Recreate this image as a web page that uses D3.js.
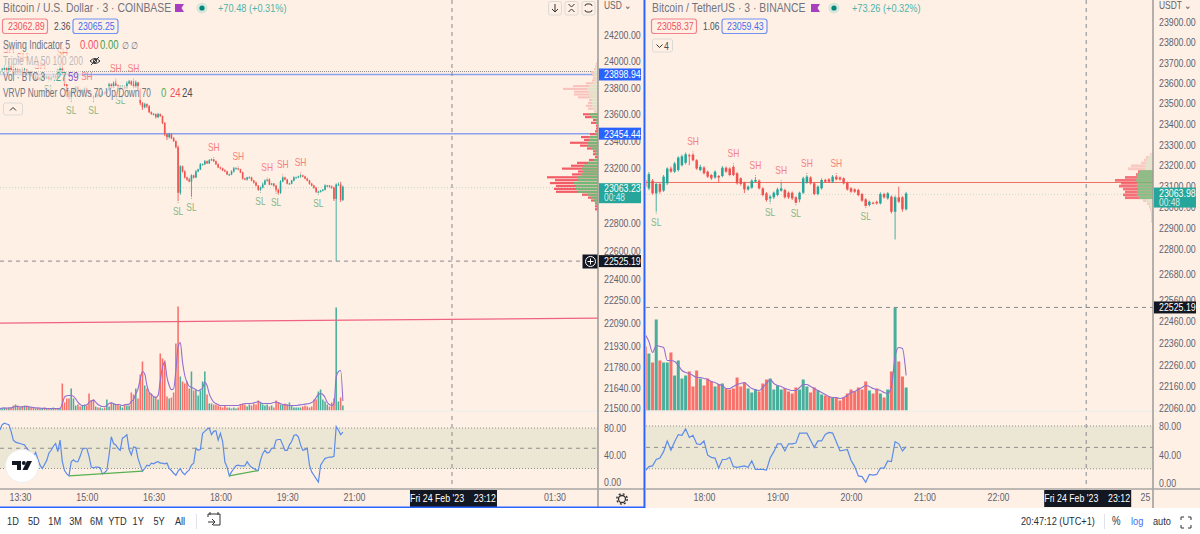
<!DOCTYPE html>
<html lang='en'>
<head>
<title>BTC 3m split chart</title>
<meta charset='UTF-8'>
<script src='https://d3js.org/d3.v7.min.js'></script>
<style>
  html, body { margin: 0; padding: 0; background: #fff; overflow: hidden; }
  svg { display: block; }
  text { font-family: 'Liberation Sans', sans-serif; white-space: pre; }
</style>
</head>
<body>
<svg id='chart' width='1200' height='534'></svg>
<script>
// ---- coinbase chart (left) ----
const leftClose = [23920,23935,23950,23920,23965,23935,23905,23935,23913,23928,
  23913,23935,23905,23920,23890,23868,23883,23860,23875,23890,
  23868,23883,23860,23875,23890,23875,23920,23943,23905,23823,
  23771,23727,23771,23779,23801,23786,23764,23779,23794,23771,
  23756,23734,23727,23749,23734,23742,23764,23756,23779,23823,
  23801,23831,23816,23801,23809,23809,23794,23831,23846,23823,
  23801,23838,23786,23682,23652,23675,23660,23615,23600,23600,
  23578,23600,23585,23533,23451,23429,23451,23421,23399,23354,
  23019,23213,23175,23131,23116,23101,23146,23131,23175,23190,
  23228,23228,23250,23235,23257,23265,23250,23228,23205,23198,
  23183,23175,23153,23153,23175,23198,23198,23190,23168,23123,
  23116,23131,23131,23108,23094,23071,23041,23056,23079,23108,
  23116,23079,23086,23071,23041,23019,23101,23131,23116,23086,
  23086,23108,23131,23131,23138,23146,23138,23123,23108,23086,
  23071,23056,23026,23026,23034,23041,23071,23071,23064,23056,
  22974,23079,23079,22967,23063]
const leftFirstOpen = 23905
const leftWickUp = [8,15,22,8,37,10,5,15,8,12,
  8,15,5,10,8,12,10,15,0,8,
  12,5,8,10,15,8,20,22,37,5,
  5,8,10,15,8,8,5,10,8,0,
  8,5,5,10,8,5,10,8,15,12,
  8,15,22,5,8,8,5,15,12,8,
  30,15,5,8,8,10,5,8,5,8,
  5,10,5,5,8,5,10,5,8,5,
  12,8,5,8,5,12,8,5,10,5,
  8,5,10,5,8,5,0,5,5,5,
  5,8,5,5,8,10,8,0,5,5,
  5,5,8,5,5,5,5,8,15,8,
  0,8,5,5,5,8,10,8,5,5,
  5,5,8,5,5,8,5,5,5,5,
  5,5,5,8,5,5,10,5,5,8,
  8,8,15,20,8]
const leftWickDown = [8,8,5,10,5,8,8,5,8,8,
  5,8,5,8,10,5,8,5,8,5,
  8,5,0,8,5,10,5,8,8,15,
  8,15,22,8,5,8,5,8,5,8,
  5,8,22,5,8,8,5,8,5,5,
  8,5,5,8,22,5,8,5,5,8,
  8,5,8,15,20,8,15,8,5,8,
  10,8,5,8,15,22,10,8,5,8,
  60,15,8,8,10,5,112,8,5,5,
  5,8,5,5,5,5,5,5,5,8,
  5,5,5,8,5,8,5,5,5,8,
  5,8,5,5,8,5,8,8,5,5,
  8,5,5,8,15,15,8,5,5,5,
  5,5,5,5,5,8,5,5,5,8,
  5,8,8,8,5,5,5,8,8,8,
  15,449,8,15,8]
const leftVolume = [12,12,18,12,18,18,30,36,30,18,24,30,30,24,18,18,12,18,12,12,18,12,12,12,18,12,12,12,
  162,48,72,72,132,72,30,36,24,30,36,30,102,60,66,24,18,18,12,18,66,24,48,42,36,36,30,18,36,30,30,
  108,96,132,72,216,294,150,132,108,102,84,84,66,342,312,300,84,72,78,108,402,624,204,174,162,174,132,
  234,120,126,90,120,174,234,96,42,42,36,36,30,24,18,30,18,18,12,18,12,18,36,42,36,24,36,30,42,36,
  60,48,36,30,36,24,30,18,60,48,36,36,42,36,48,30,18,18,18,18,24,30,24,18,24,66,66,114,126,66,54,36,24,48,72,618,54,78,30]
const leftVolumeMa = [12,14,15,14,15,16,20,24,24,22,22,24,24,22,20,18,16,15,14,13,13,12,12,12,12,12,12,13,
  40,80,88,90,90,85,70,50,36,30,30,34,48,58,62,50,36,30,24,24,30,42,46,42,36,36,34,30,34,36,38,54,66,
  100,130,190,234,220,150,110,96,84,78,90,180,260,290,200,150,125,130,240,380,408,290,210,170,145,140,
  132,125,118,125,135,170,150,100,70,50,42,36,30,30,30,30,30,30,30,30,30,34,38,42,42,42,42,46,50,54,
  48,42,42,42,42,44,48,50,48,40,36,34,32,30,30,30,30,32,34,36,38,40,42,48,58,78,96,102,96,78,48,36,30,40,200,234,240,57]
const leftMfi = [77,85,87,86,85,75,62,59,58,57,56,55,50,46,40,37,44,34,25,20,26,32,43,47,53,57,45,62,30,17,12,9,30,33,30,30,38,48,50,50,
  38,22,21,22,22,21,12,14,17,40,67,57,55,50,47,65,67,70,48,40,52,51,35,25,16,20,25,24,28,27,29,30,28,28,27,28,20,17,13,10,
  16,20,14,11,15,18,25,28,50,47,48,72,75,78,80,70,75,76,62,72,60,30,22,9,15,20,24,25,24,24,24,30,25,22,20,18,17,32,42,47,
  43,44,50,50,62,63,63,55,47,47,55,60,69,70,67,55,47,48,50,25,15,10,5,0,25,30,35,36,37,37,38,82,77,70,74]
const leftSwingHigh = [4,10,18,28,39,52,60,96,107,120,127,135]
const leftSwingLow = [22,32,42,54,80,86,117,124,143]
// volume profile rows, top to bottom (up volume, total volume)
const leftProfileUp = [0,1,2,3,4,4,3,3,5,9,11,9,9,8,6,6,6,5,2,8,7,2,2,1,1,1,3,9,9,11,10,7,3,2,1,4,10,14,16,15,17,21,20,24,22,22,20,11,7,4,2,1,1,0,0,0,0,0,0,0,0,0,0,0,0,0,0,0,0,0]
const leftProfileTotal = [1,2,3,4,7,6,5,6,12,25,35,24,24,20,9,10,12,10,4,15,13,5,7,2,2,3,8,17,14,28,18,11,5,5,3,9,21,27,36,20,26,51,43,48,42,44,42,16,10,7,3,3,3,1,1,1,1,1,1,1,1,1,1,1,1,1,1,1,1,1]

// ---- binance chart (right) ----
const rightOpen = [23129,23089,23126,23065,23110,23078,23113,23184,23169,23177,23200,23212,23248,23251,23224,23177,23189,23169,23153,23141,
  23148,23148,23188,23184,23192,23161,23137,23116,23084,23092,23121,23126,23089,23065,23041,23046,23057,23078,23081,23068,
  23068,23046,23036,23068,23116,23141,23113,23062,23089,23129,23132,23121,23145,23141,23137,23116,23089,23084,23081,23062,
  23036,23009,23020,23024,23017,23062,23041,23049,22977,23046,23046,22989]
const rightClose = [23097,23157,23065,23110,23073,23145,23184,23169,23208,23237,23243,23253,23245,23224,23184,23192,23161,23145,23137,23169,
  23141,23188,23169,23153,23153,23113,23110,23084,23097,23126,23129,23089,23057,23033,23049,23068,23084,23089,23046,23046,
  23041,23020,23068,23137,23145,23113,23062,23097,23129,23121,23121,23145,23132,23132,23113,23084,23073,23073,23057,23030,
  23004,23025,23017,23017,23062,23046,23065,22977,23046,23025,22989,23064]
const rightWickUp = [8,10,8,6,5,8,6,10,8,6,8,8,8,6,5,10,6,5,5,6,
  5,8,6,6,8,6,5,5,6,6,14,6,5,6,8,6,8,30,6,6,
  6,5,5,8,8,6,5,6,8,6,6,8,8,5,5,5,6,5,6,5,
  6,5,5,6,8,6,6,6,8,51,6,8]
const rightWickDown = [6,8,6,88,10,6,8,5,6,8,6,8,45,5,6,6,5,6,8,6,
  25,6,5,6,5,6,8,18,6,5,6,5,6,8,18,8,6,5,6,8,
  8,3,14,6,5,6,6,6,6,5,5,6,5,6,5,6,5,6,6,6,
  0,6,5,6,5,6,6,8,132,6,12,6]
const rightVolume = [64,57,48,91,50,48,48,58,35,50,32,35,39,24,40,32,25,32,29,24,26,27,22,21,22,33,24,28,22,18,21,19,27,31,32,21,25,21,22,19,
  17,23,21,31,24,18,23,20,16,15,14,13,13,10,13,17,21,19,23,21,29,20,17,22,17,13,21,39,103,49,34,23]
const rightVolumeMa = [76,69,58,65,64,63,50,50,49,45,40,38,37,35,33,33,32,31,29,28,26,25,22,22,24,26,27,28,25,22,21,20,23,27,31,27,25,24,22,21,
  20,20,23,26,26,24,22,20,18,16,14,13,13,12,13,15,18,19,21,23,25,24,22,21,20,18,17,24,54,63,62,35]
const rightMfi = [17,23,24,33,35,44,59,46,58,68,67,76,64,67,55,54,59,39,36,35,21,33,33,36,23,22,23,24,22,31,19,19,19,18,35,44,55,55,45,55,
  55,56,70,70,70,60,50,59,59,68,71,70,58,45,46,47,32,23,10,9,1,12,11,12,21,21,31,30,58,55,45,51]
const rightSwingHigh = [13,24,30,37,44,52]
const rightSwingLow = [3,34,41,60]
const rightProfileUp = [2,5,6,7,8,8,14,16,16,17,16,16,15,16,16,14,7,4,3,2,1,1,1,1,0,0,0,0,0,0]
const rightProfileTotal = [3,7,9,12,22,25,15,17,28,38,32,34,30,28,30,28,10,6,4,3,2,2,2,2,1,1,1,1,1,1]

// ---- axis ticks ----
const leftPriceTicks = [24200,24000,23800,23600,23400,23200,23000,22800,22600,22400,22250,22090,21930,21780,21640,21500]
const rightPriceTicks = [23900,23800,23700,23600,23500,23400,23300,23200,23100,23000,22900,22800,22680,22560,22460,22360,22260,22160,22060]
const mfiTicks = [0,40,80]
const leftTimeTicks = ['13:30','15:00','16:30','18:00','19:30','21:00','22:30','24:00','25:30']
const rightTimeTicks = ['18:00','19:00','20:00','21:00','22:00','23:00','24:00']
const rangeButtons = ['1D','5D','1M','3M','6M','YTD','1Y','5Y','All']

const BG = '#fff0e6', RED = '#ef5350', TEAL = '#26a69a', AXIS_TXT = '#5f626c', LEGEND_TXT = '#71747f'
const FONT = "'Liberation Sans', sans-serif"
const STEP = 3 * 60000
const TEXT_SQUEEZE = 0.8   // reference type is narrower than anything installed

const svg = d3.select('#chart')

// 'HH:MM' to a date, hours above 24 fall on the next day
const toTime = s => { const [h, m] = s.split(':').map(Number); return new Date(Date.UTC(2023, 1, 24, h, m)) }
const fmtTime = d => d.getUTCHours() === 0 && d.getUTCMinutes() === 0 ? '25' : d3.utcFormat('%H:%M')(d)

function drawPane(c) {
  const defs = svg.append('defs')
  defs.append('clipPath').attr('id', c.id + 'clip').append('rect')
    .attr('x', c.left).attr('y', 0).attr('width', c.right - c.left).attr('height', 489)

  svg.append('rect').attr('x', c.left).attr('y', 0).attr('width', c.width).attr('height', 508).attr('fill', BG)

  const g = svg.append('g').attr('clip-path', `url(#${c.id}clip)`)
  const bars = c.close.map((cl, i) => ({
    i, t: new Date(c.start.getTime() + i * STEP), o: c.open[i], c: cl,
    h: Math.max(c.open[i], cl) + c.wickUp[i], l: Math.min(c.open[i], cl) - c.wickDown[i],
    v: c.volume[i], ma: c.volumeMa[i], mfi: c.mfi[i]
  }))
  const colorOf = d => d.c >= d.o ? TEAL : RED
  const x = c.x, y = c.y
  const bw = x(new Date(STEP)) - x(new Date(0))
  const yVol = d3.scaleLinear().domain([0, c.volMax]).range([410.5, c.volTop])
  const yMfi = d3.scaleLinear().domain([0, 80]).range(c.mfiRange)

  // horizontal levels behind the candles
  g.selectAll('line.level').data(c.levels).enter().append('line')
    .attr('x1', c.left).attr('x2', c.right)
    .attr('y1', d => y(d.p)).attr('y2', d => y(d.p))
    .attr('stroke', d => d.color).attr('stroke-width', d => d.w).attr('stroke-dasharray', d => d.dash)

  // volume profile: total row in red, up share in green on top of it
  const xProf = d3.scaleLinear().domain([0, c.profMax]).range([c.right, c.right - c.profMax])
  const rowStep = (c.profTop - c.profBottom) / c.profUp.length
  const row = c.profUp.map((u, r) => ({
    r, up: u, tot: c.profTotal[r],
    y0: y(c.profTop - r * rowStep), y1: y(c.profTop - (r + 1) * rowStep),
    on: r >= c.vaRows[0] && r <= c.vaRows[1]
  }))
  const prof = g.append('g').attr('opacity', c.profOpacity)
  prof.selectAll('rect.down').data(row).enter().append('rect')
    .attr('x', d => xProf(d.tot)).attr('width', d => c.right - xProf(d.tot))
    .attr('y', d => d.y0).attr('height', d => (d.y1 - d.y0) - c.profGap)
    .attr('fill', d => d.on ? '#f25c66' : '#f9c3bd')
  prof.selectAll('rect.up').data(row).enter().append('rect')
    .attr('x', d => xProf(d.up)).attr('width', d => c.right - xProf(d.up))
    .attr('y', d => d.y0).attr('height', d => (d.y1 - d.y0) - c.profGap)
    .attr('fill', d => d.on ? '#74b878' : '#dfe3c8')

  // candles
  const cw = bw * c.candleRatio
  g.selectAll('line.wick').data(bars).enter().append('line')
    .attr('x1', d => x(d.t)).attr('x2', d => x(d.t))
    .attr('y1', d => y(d.h)).attr('y2', d => y(d.l))
    .attr('stroke', colorOf).attr('stroke-width', 1).attr('opacity', 0.85)
  g.selectAll('rect.body').data(bars).enter().append('rect')
    .attr('x', d => x(d.t) - cw / 2).attr('width', cw)
    .attr('y', d => y(Math.max(d.o, d.c)))
    .attr('height', d => Math.max(1, y(Math.min(d.o, d.c)) - y(Math.max(d.o, d.c))))
    .attr('fill', colorOf)

  // swing labels
  const swing = (list, key, txt, col, off, tick) => {
    g.selectAll('text.' + txt).data(list).enter().append('text')
      .attr('x', i => x(bars[i].t)).attr('y', i => y(bars[i][key]) + off)
      .attr('text-anchor', 'middle').attr('dominant-baseline', 'middle')
      .attr('font-size', 10.5).attr('fill', col).text(txt)
    g.selectAll('line.' + txt).data(list).enter().append('line')
      .attr('x1', i => x(bars[i].t)).attr('x2', i => x(bars[i].t))
      .attr('y1', i => y(bars[i][key]) + tick).attr('y2', i => y(bars[i][key]) + tick * 2)
      .attr('stroke', col).attr('stroke-width', 1)
  }
  swing(c.swingHigh, 'h', 'SH', '#f58080', -11, -1)
  swing(c.swingLow, 'l', 'SL', '#84b784', 11, 1)

  // volume + its moving average
  const vw = bw * c.volRatio
  g.selectAll('rect.vol').data(bars).enter().append('rect')
    .attr('x', d => x(d.t) - vw / 2).attr('width', vw)
    .attr('y', d => yVol(d.v)).attr('height', d => 410.5 - yVol(d.v))
    .attr('fill', d => d.c >= d.o ? '#3aa996' : '#f6665f').attr('opacity', 0.92)
  g.append('path').datum(bars)
    .attr('fill', 'none').attr('stroke', '#9270cf').attr('stroke-width', 1.1)
    .attr('d', d3.line().x(d => x(d.t)).y(d => yVol(d.ma)).curve(d3.curveMonotoneX))

  if (c.trend) {
    g.append('line')
      .attr('x1', x(toTime(c.trend.t0))).attr('y1', y(c.trend.p0))
      .attr('x2', x(toTime(c.trend.t1))).attr('y2', y(c.trend.p1))
      .attr('stroke', '#f0637f').attr('stroke-width', 1.2)
  }

  // separator between price and mfi panes
  svg.append('rect').attr('x', c.left).attr('y', 410.5).attr('width', c.width).attr('height', 1.6).attr('fill', '#f1eeea')

  // mfi band
  g.append('rect').attr('x', c.left).attr('width', c.right - c.left)
    .attr('y', yMfi(80)).attr('height', yMfi(20) - yMfi(80)).attr('fill', '#ece7d5')
  ;[[80, '1,2'], [20, '1,2'], [50, '4,4']].forEach(([v, dash]) => {
    g.append('line').attr('x1', c.left).attr('x2', c.right)
      .attr('y1', yMfi(v)).attr('y2', yMfi(v))
      .attr('stroke', '#8f8f8a').attr('stroke-dasharray', dash)
  })
  g.append('path').datum(bars)
    .attr('fill', 'none').attr('stroke', '#5d8bea').attr('stroke-width', 1.2)
    .attr('d', d3.line().x(d => x(d.t)).y(d => yMfi(d.mfi)))
  ;(c.divergence || []).forEach(([a, b]) => {
    g.append('line')
      .attr('x1', x(bars[a].t)).attr('y1', yMfi(bars[a].mfi))
      .attr('x2', x(bars[b].t)).attr('y2', yMfi(bars[b].mfi))
      .attr('stroke', '#58b04f').attr('stroke-width', 1.3)
  })

  // crosshair
  const cross = g.append('g').attr('stroke', '#86888c').attr('stroke-dasharray', '4,4')
  cross.append('line').attr('x1', x(toTime(c.crossTime))).attr('x2', x(toTime(c.crossTime))).attr('y1', 0).attr('y2', 489)
  cross.append('line').attr('x1', c.left).attr('x2', c.crossEnd).attr('y1', y(c.crossPrice)).attr('y2', y(c.crossPrice))

  // axes
  const axR = svg.append('g').attr('transform', `translate(${c.right},0)`)
    .call(d3.axisRight(y).tickValues(c.priceTicks).tickFormat(d3.format('.2f')).tickSize(0).tickPadding(6))
  axR.select('.domain').remove()
  const axM = svg.append('g').attr('transform', `translate(${c.right},0)`)
    .call(d3.axisRight(yMfi).tickValues(mfiTicks).tickFormat(d3.format('.2f')).tickSize(0).tickPadding(6))
  axM.select('.domain').remove()
  const axT = svg.append('g').attr('transform', 'translate(0,490)')
    .call(d3.axisBottom(x).tickValues(c.timeTicks.map(toTime)).tickFormat(fmtTime).tickSize(0).tickPadding(3))
  axT.select('.domain').remove()
  ;[axR, axM, axT].forEach(a => a.selectAll('text')
    .attr('fill', AXIS_TXT).style('font-family', FONT).style('font-size', '11px'))

  // pane frame lines
  svg.append('line').attr('x1', c.right).attr('x2', c.right).attr('y1', 0).attr('y2', 508).attr('stroke', '#9c9a97').attr('stroke-width', 1.5)
  svg.append('line').attr('x1', c.left).attr('x2', c.left + c.width).attr('y1', 489).attr('y2', 489).attr('stroke', '#a8a6a3').attr('stroke-width', 1.5)

  // axis tags
  priceTag(c, y(c.crossPrice), '#131722', d3.format('.2f')(c.crossPrice))
  c.tags.forEach(t => priceTag(c, y(t.p), t.color, d3.format('.2f')(t.p)))
  svg.append('text').attr('x', c.right + 6).attr('y', 9).attr('font-size', 10.5).attr('fill', AXIS_TXT).text(c.currency + ' ⌄')

  const xc = x(toTime(c.crossTime))
  svg.append('rect').attr('x', xc - 42).attr('y', 490).attr('width', 87).attr('height', 17).attr('fill', '#131722')
  svg.append('text').attr('x', xc + 1).attr('y', 502).attr('text-anchor', 'middle').attr('font-size', 11).attr('fill', '#fff')
    .text("Fri 24 Feb '23    23:12")

  // live price tag with countdown
  const ly = y(c.lastPrice) + c.lastDy
  svg.append('rect').attr('x', c.right + 1).attr('y', ly - 5).attr('width', 42).attr('height', 20).attr('fill', TEAL)
  svg.append('text').attr('x', c.right + 6).attr('y', ly + 4).attr('font-size', 11).attr('fill', '#fff').text(d3.format('.2f')(c.lastPrice))
  svg.append('text').attr('x', c.right + 6).attr('y', ly + 13).attr('font-size', 10.5).attr('fill', '#fff').attr('opacity', 0.8).text('00:48')
}

function priceTag(c, py, col, txt) {
  svg.append('rect').attr('x', c.right + 1).attr('y', py - 6).attr('width', 42).attr('height', 12).attr('fill', col)
  svg.append('text').attr('x', c.right + 6).attr('y', py + 4).attr('font-size', 11).attr('fill', '#fff').text(txt)
}

const leftOpen = [leftFirstOpen, ...leftClose.slice(0, -1)]

drawPane({
  id: 'l', left: 0, right: 598, width: 644, currency: 'USD',
  start: toTime('13:03'),
  x: d3.scaleUtc().domain([toTime('13:30'), toTime('21:00')]).range([20, 354]),
  y: d3.scaleLog().domain([21500, 24200]).range([408, 35]),
  open: leftOpen, close: leftClose, wickUp: leftWickUp, wickDown: leftWickDown,
  volume: leftVolume, volumeMa: leftVolumeMa, mfi: leftMfi,
  volMax: 624, volTop: 306.5, mfiRange: [482, 428],
  candleRatio: 0.72, volRatio: 0.7,
  swingHigh: leftSwingHigh, swingLow: leftSwingLow,
  profUp: leftProfileUp, profTotal: leftProfileTotal, profMax: 51, profTop: 24010, profBottom: 22525,
  vaRows: [19, 52], profGap: 0.7, profOpacity: 1,
  levels: [
    { p: 23921, color: '#8d8a86', w: 1, dash: '1,1' },
    { p: 23898.94, color: '#8aa2ee', w: 1.5, dash: null },
    { p: 23454.44, color: '#8aa2ee', w: 1.5, dash: null },
    { p: 23056, color: '#bcd8bd', w: 1, dash: '1,2' }
  ],
  trend: { t0: '13:03', p0: 22087, t1: '26:30', p1: 22122 },
  divergence: [[31, 64], [103, 116]],
  crossTime: '23:12', crossPrice: 22525.19, crossEnd: 583,
  priceTicks: leftPriceTicks, timeTicks: leftTimeTicks,
  tags: [{ p: 23898.94, color: '#2962ff' }, { p: 23454.44, color: '#2962ff' }],
  lastPrice: 23063.23, lastDy: 1.5
})

drawPane({
  id: 'r', left: 646, right: 1153, width: 554, currency: 'USDT',
  start: toTime('17:12'),
  x: d3.scaleUtc().domain([toTime('18:00'), toTime('22:00')]).range([704, 998]),
  y: d3.scaleLog().domain([22060, 23900]).range([408, 22]),
  open: rightOpen, close: rightClose, wickUp: rightWickUp, wickDown: rightWickDown,
  volume: rightVolume, volumeMa: rightVolumeMa, mfi: rightMfi,
  volMax: 103, volTop: 307.5, mfiRange: [483, 426],
  candleRatio: 0.68, volRatio: 0.82,
  swingHigh: rightSwingHigh, swingLow: rightSwingLow,
  profUp: rightProfileUp, profTotal: rightProfileTotal, profMax: 38, profTop: 23259, profBottom: 22842,
  vaRows: [6, 15], profGap: 0.2, profOpacity: 0.85,
  levels: [
    { p: 23060, color: '#c6ddc5', w: 1, dash: '1,2' },
    { p: 23117, color: '#ef6f63', w: 1, dash: null }
  ],
  crossTime: '23:12', crossPrice: 22525.19, crossEnd: 1153,
  priceTicks: rightPriceTicks, timeTicks: rightTimeTicks,
  tags: [],
  lastPrice: 23063.98, lastDy: -1
})

// selected pane frame
svg.append('line').attr('x1', 644.5).attr('x2', 644.5).attr('y1', 0).attr('y2', 508).attr('stroke', '#2962ff').attr('stroke-width', 2)
svg.append('line').attr('x1', 0).attr('x2', 645).attr('y1', 507.2).attr('y2', 507.2).attr('stroke', '#2962ff').attr('stroke-width', 1.6)

// crosshair add button on the left axis
const plus = svg.append('g').attr('transform', 'translate(590.5,261.5)')
plus.append('rect').attr('x', -8).attr('y', -7).attr('width', 15).attr('height', 14).attr('fill', '#131722')
plus.append('circle').attr('r', 5).attr('fill', 'none').attr('stroke', '#fff')
plus.append('path').attr('d', 'M-3 0H3M0 -3V3').attr('stroke', '#fff')

// gear in the time axis corner
const gear = svg.append('g').attr('transform', 'translate(622,499)')
gear.append('circle').attr('r', 3.5).attr('fill', 'none').attr('stroke', '#333').attr('stroke-width', 1.3)
gear.append('circle').attr('r', 5.2).attr('fill', 'none').attr('stroke', '#333').attr('stroke-width', 1.4).attr('stroke-dasharray', '2,2.1')

// ---- legends ----
const legendBg = svg.append('g').attr('fill', BG).attr('opacity', 0.62)
;[[0, 38, 120, 14], [0, 54, 105, 14], [0, 70, 82, 14], [0, 86, 195, 14]].forEach(r => {
  legendBg.append('rect').attr('x', r[0]).attr('y', r[1]).attr('width', r[2]).attr('height', r[3])
})

function label(x, y, txt, col, size, extra) {
  const t = svg.append('text').attr('x', x).attr('y', y).attr('fill', col).attr('font-size', size || 11).text(txt)
  if (extra) t.attr('opacity', extra)
  return t
}
function box(x, y, w, h, stroke) {
  svg.append('rect').attr('x', x).attr('y', y).attr('width', w).attr('height', h).attr('rx', 2.5)
    .attr('fill', 'none').attr('stroke', stroke).attr('stroke-width', 1.2)
}
function titleRow(x, title, flagX, dotX, changeX, change, bid, spread, ask) {
  label(x, 12, title, LEGEND_TXT, 13)
  svg.append('path').attr('d', `M${flagX} 4h9l-2.5 4 2.5 4h-9z`).attr('fill', '#a83fc0')
  svg.append('circle').attr('cx', dotX).attr('cy', 8).attr('r', 5.5).attr('fill', '#d8e6dc')
  svg.append('circle').attr('cx', dotX).attr('cy', 8).attr('r', 2.6).attr('fill', '#00897b')
  label(changeX, 12, change, '#4fb3a6', 11.5)
  box(x - 0.5, 19, 45, 14.5, '#f4828c')
  label(x + 5, 30, bid, '#f0505f', 11)
  label(x + 51, 30, spread, '#4a4d57', 10.5)
  box(x + 70, 19, 45, 14.5, '#6f92f5')
  label(x + 75, 30, ask, '#3f6ef0', 11)
}
titleRow(3, 'Bitcoin / U.S. Dollar · 3 · COINBASE', 175, 202, 218, '+70.48 (+0.31%)', '23062.89', '2.36', '23065.25')
titleRow(652, 'Bitcoin / TetherUS · 3 · BINANCE', 811, 834, 852, '+73.26 (+0.32%)', '23058.37', '1.06', '23059.43')

label(3, 49, 'Swing Indicator 5', LEGEND_TXT, 12).attr('data-w', 67)
label(80, 49, '0.00', '#f0505f', 12)
label(100, 49, '0.00', '#3f9f45', 12)
label(122, 49, '∅', LEGEND_TXT, 10); label(131, 49, '∅', LEGEND_TXT, 10)
label(3, 65, 'Triple MA 50 100 200', LEGEND_TXT, 12, 0.45).attr('data-w', 80)
const eye = svg.append('g').attr('transform', 'translate(95,61)').attr('fill', 'none').attr('stroke', '#333')
eye.append('path').attr('d', 'M-5 0Q0 -5 5 0Q0 5 -5 0z')
eye.append('circle').attr('r', 1.6)
eye.append('path').attr('d', 'M-4 4L4 -4')
label(3, 81, 'Vol · BTC 3', LEGEND_TXT, 12).attr('data-w', 42)
label(53, 81, '.27', '#3aa996', 12)
label(68, 81, '59', '#7e57c2', 12)
label(3, 97, 'VRVP Number Of Rows 70 Up/Down 70', LEGEND_TXT, 12).attr('data-w', 148)
label(161, 97, '0', '#4caf50', 12); label(170, 97, '24', '#f0505f', 12); label(182, 97, '24', '#4a4d57', 12)

// legend collapse buttons
function smallBtn(x, y, w, h) {
  svg.append('rect').attr('x', x).attr('y', y).attr('width', w).attr('height', h).attr('rx', 2)
    .attr('fill', BG).attr('stroke', '#dcdad6')
}
smallBtn(3.5, 103, 19, 12)
svg.append('path').attr('d', 'M10 110.5l3 -3 3 3').attr('fill', 'none').attr('stroke', '#333')
smallBtn(652.5, 39, 20, 13)
svg.append('path').attr('d', 'M656.5 44.5l3 3 3 -3').attr('fill', 'none').attr('stroke', '#333')
label(664, 49.5, '4', '#4a4d57', 11)

// top-right scale buttons on the left pane
;[548.5, 565, 582].forEach(bx => smallBtn(bx, 1.5, 13, 13.5))
svg.append('path').attr('d', 'M555 4v8M552 9l3 3 3 -3').attr('fill', 'none').attr('stroke', '#333')
svg.append('path').attr('d', 'M568.5 4l3 3 3 -3M568.5 12l3 -3 3 3').attr('fill', 'none').attr('stroke', '#333')
svg.append('path').attr('d', 'M585 6q0 -2 2 -2h3q2 0 2 2M585 10q0 2 2 2h3q2 0 2 -2').attr('fill', 'none').attr('stroke', '#333')

// tradingview badge
const logo = svg.append('g')
logo.append('circle').attr('cx', 22).attr('cy', 466).attr('r', 16.5).attr('fill', '#fff').attr('stroke', '#eee')
logo.append('path').attr('d', 'M12 461h9v9h-4v-5h-5z').attr('fill', '#131722')
logo.append('circle').attr('cx', 23.8).attr('cy', 463).attr('r', 2).attr('fill', '#131722')
logo.append('path').attr('d', 'M27 461h5l-4.5 9h-5z').attr('fill', '#131722')

// ---- bottom toolbar ----
svg.append('rect').attr('x', 0).attr('y', 508).attr('width', 1200).attr('height', 26).attr('fill', '#fff')
const btnX = d3.scalePoint().domain(rangeButtons).range([13, 180])
rangeButtons.forEach(b => {
  label(btnX(b), 525, b, '#2a2e39', 11.5).attr('text-anchor', 'middle')
})
svg.append('line').attr('x1', 196.5).attr('x2', 196.5).attr('y1', 514).attr('y2', 529).attr('stroke', '#e0e3eb')
svg.append('path').attr('d', 'M208 517v-3h12v11h-7M210 512v3M218 512v3M208 522h7M212 519l3 3 -3 3').attr('fill', 'none').attr('stroke', '#333')
label(1021, 525, '20:47:12 (UTC+1)', '#2a2e39', 11.5)
svg.append('line').attr('x1', 1104.5).attr('x2', 1104.5).attr('y1', 514).attr('y2', 529).attr('stroke', '#e0e3eb')
label(1112, 525, '%', '#2a2e39', 12)
label(1131, 525, 'log', '#3f6ef0', 11.5)
label(1153, 525, 'auto', '#2a2e39', 11.5)
svg.append('path').attr('d', 'M1181 520v-3h3M1188 517h3v3M1191 525v3h-3M1184 528h-3v-3').attr('fill', 'none').attr('stroke', '#333')

// squeeze every label to the reference's narrow type
svg.selectAll('text').each(function () {
  const w = this.getComputedTextLength()
  const target = +this.getAttribute('data-w') || w * TEXT_SQUEEZE
  if (w > 0) d3.select(this).attr('textLength', target).attr('lengthAdjust', 'spacingAndGlyphs')
})
</script>
</body>
</html>
